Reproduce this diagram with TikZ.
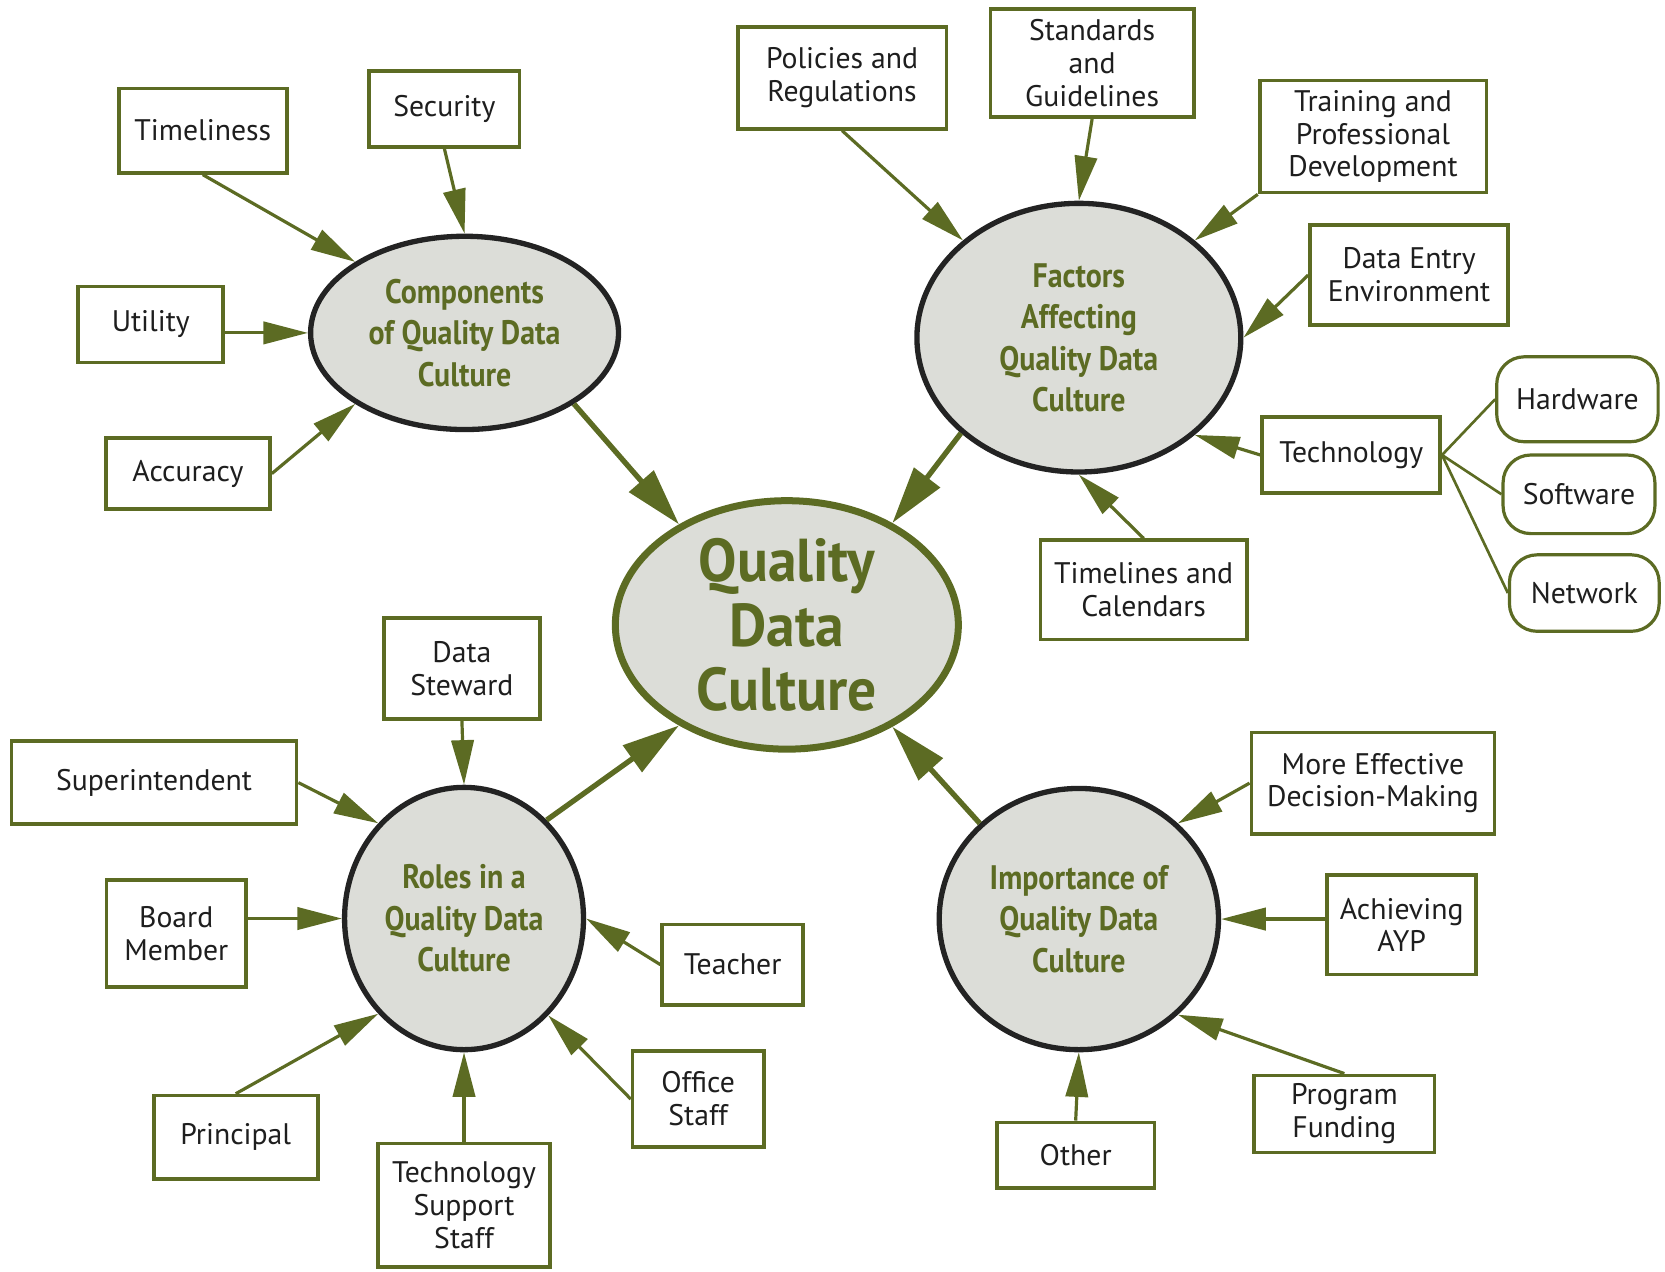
\documentclass[tikz,border=0pt]{standalone}
\usepackage{fontspec}
\setmainfont{PT Sans}
\newfontfamily\condfont[FakeStretch=0.88]{PT Sans}
\newfontfamily\hubfamily[FakeStretch=0.95]{PT Sans}
\usepackage{tikz}
\usetikzlibrary{shapes.geometric,arrows.meta}
\definecolor{qgreen}{RGB}{92,107,35}
\definecolor{qgray}{RGB}{220,221,216}
\definecolor{qdark}{RGB}{35,35,35}
\definecolor{qtext}{RGB}{30,30,30}

\begin{document}
\begin{tikzpicture}[x=1pt,y=-1pt,
	box/.style={shape=rectangle,draw=qgreen,line width=3.5pt,fill=white,align=center,inner sep=2pt,text=qtext,font=\fontsize{28}{31}\selectfont},
	part/.style={box,line width=3pt,rounded corners=26pt},
	topic/.style={shape=ellipse,draw=qdark,line width=5pt,fill=qgray,align=center,inner sep=0pt,text=qgreen,font=\condfont\bfseries\fontsize{32}{39}\selectfont},
	hub/.style={shape=ellipse,draw=qgreen,line width=6.6pt,fill=qgray,align=center,inner xsep=-10pt,inner ysep=-15pt,text=qgreen,font=\hubfamily\bfseries\fontsize{57}{61}\selectfont},
	feed/.style={qgreen,line width=3pt,-{Triangle[length=42pt,width=21pt]}},
	mainfeed/.style={qgreen,line width=5pt,-{Triangle[length=54pt,width=30pt]}},
	link/.style={qgreen,line width=2.5pt}]
	\useasboundingbox (0,0) rectangle (1568,1197);

	% hub and topics
	\node[hub,minimum width=323pt,minimum height=234pt] (qdc) at (741, 588.5) {Quality\\Data\\Culture};
	\node[topic,minimum width=290pt,minimum height=182pt] (comp) at (437.5, 313.5) {Components\\of Quality Data\\Culture};
	\node[topic,minimum width=305pt,minimum height=253pt] (fac) at (1016, 318) {Factors\\Affecting\\Quality Data\\Culture};
	\node[topic,minimum width=225pt,minimum height=247pt] (rol) at (437, 865) {Roles in a\\Quality Data\\Culture};
	\node[topic,minimum width=263pt,minimum height=246pt] (imp) at (1016, 865.5) {Importance of\\Quality Data\\Culture};

	% components
	\node[box,minimum width=158.5pt,minimum height=79.5pt] (tim) at (191, 123)     {Timeliness};
	\node[box,minimum width=141.5pt,minimum height=71.5pt] (sec) at (418.5, 102.5) {Security};
	\node[box,minimum width=136.5pt,minimum height=71.5pt] (uti) at (142, 305.5)   {Utility};
	\node[box,minimum width=154.5pt,minimum height=66.5pt] (acc) at (177, 446)     {Accuracy};

	% factors
	\node[box,minimum width=196.5pt,minimum height=95.5pt]  (pol) at (793, 73.5)    {Policies and\\Regulations};
	\node[box,minimum width=191.5pt,minimum height=101.5pt] (std) at (1028.5, 59.5) {Standards\\and\\Guidelines};
	\node[box,minimum width=213.5pt,minimum height=105.5pt] (tra) at (1293, 128.5)  {Training and\\Professional\\Development};
	\node[box,minimum width=186.5pt,minimum height=94.5pt]  (den) at (1327, 259)    {Data Entry\\Environment};
	\node[box,minimum width=167.5pt,minimum height=71.5pt]  (tec) at (1272.5, 428.5) {Technology};
	\node[box,minimum width=194.5pt,minimum height=93.5pt]  (tlc) at (1077, 555.5)  {Timelines and\\Calendars};
	\node[part,minimum width=152pt,minimum height=80pt] (hw) at (1485.5, 376)  {Hardware};
	\node[part,minimum width=143pt,minimum height=74pt] (sw) at (1487, 465.5)  {Software};
	\node[part,minimum width=141pt,minimum height=72pt] (nw) at (1492, 558.5)  {Network};

	% roles
	\node[box,minimum width=146.5pt,minimum height=95.5pt]  (dst) at (435, 629.5)  {Data\\Steward};
	\node[box,minimum width=268.5pt,minimum height=78.5pt]  (sup) at (145, 737)    {Superintendent};
	\node[box,minimum width=131.5pt,minimum height=100.5pt] (bmb) at (166, 879)    {Board\\Member};
	\node[box,minimum width=132.5pt,minimum height=75.5pt]  (tea) at (690, 908.5)  {Teacher};
	\node[box,minimum width=123.5pt,minimum height=90.5pt]  (ofs) at (657.5, 1035) {Office\\Staff};
	\node[box,minimum width=154.5pt,minimum height=78.5pt]  (pri) at (222, 1071)   {Principal};
	\node[box,minimum width=161.5pt,minimum height=116.5pt] (tss) at (437, 1135)   {Technology\\Support\\Staff};

	% importance
	\node[box,minimum width=229pt,minimum height=95.5pt]   (mef) at (1293, 737.5) {More Effective\\Decision-Making};
	\node[box,minimum width=140.5pt,minimum height=93.5pt] (ayp) at (1320, 871)   {Achieving\\AYP};
	\node[box,minimum width=170pt,minimum height=72.5pt]   (pfu) at (1266, 1049)  {Program\\Funding};
	\node[box,minimum width=148.5pt,minimum height=62pt]   (oth) at (1013, 1088)  {Other};

	\path[feed] (tim.south) edge (comp.147);
	\path[feed] (sec.south) edge (comp.north);
	\path[feed] (uti.east |- comp.west) edge (comp.west);
	\path[feed] (acc.east) edge (comp.213);

	\path[feed] (pol.south) edge (fac.140);
	\path[feed] (std.south) edge (fac.north);
	\path[feed] (tra.south west) edge (fac.40);
	\path[feed] (den.west) edge (fac.east);
	\path[feed] (tec.west) edge (fac.-40);
	\path[feed] (tlc.north) edge (fac.south);
	\path[link] (tec.east) edge (hw.west) edge (sw.west) edge (nw.west);

	\path[feed] (dst.south) edge (rol.north);
	\path[feed] (sup.east) edge (rol.132);
	\path[feed] (bmb.east |- rol.west) edge (rol.west);
	\path[feed] (tea.west) edge (rol.east);
	\path[feed] (ofs.west) edge (rol.-49);
	\path[feed] (pri.north) edge (rol.228);
	\path[feed] (tss.north) edge (rol.south);

	\path[feed] (mef.west) edge (imp.44);
	\path[feed] (ayp.west |- imp.east) edge (imp.east);
	\path[feed] (pfu.north) edge (imp.-44);
	\path[feed] (oth.north) edge (imp.south);

	\path[mainfeed] (comp.-33) edge (qdc.137);
	\path[mainfeed] (fac.219) edge (qdc.44);
	\path[mainfeed] (rol.50) edge (qdc.223);
	\path[mainfeed] (imp.136) edge (qdc.-44);
\end{tikzpicture}
\end{document}
